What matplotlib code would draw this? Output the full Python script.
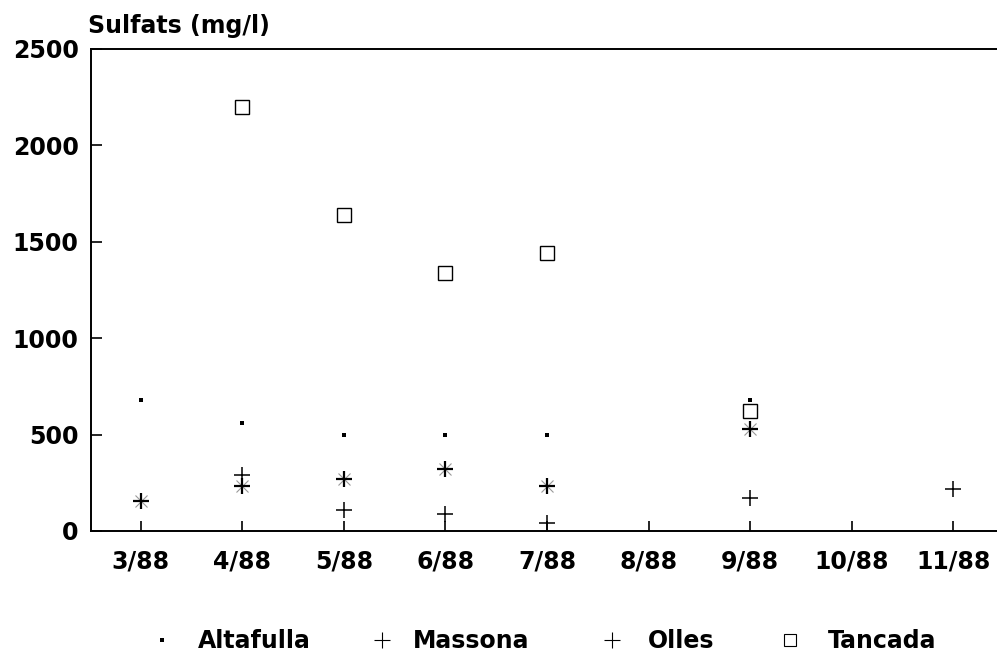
import numpy as np
import matplotlib
matplotlib.use('Agg')
import matplotlib.pyplot as plt
from matplotlib.lines import Line2D

# mesos de mostreig
mesos = ['3/88', '4/88', '5/88', '6/88', '7/88', '8/88', '9/88', '10/88', '11/88']

# sulfats (mg/l), nan = sense dada
altafulla = [680, 560, 500, 500, 500, np.nan, 680, np.nan, np.nan]
massona = [158, 290, 110, 90, 42, np.nan, 172, np.nan, 218]
olles = [158, 233, 270, 322, 233, np.nan, 530, np.nan, np.nan]
tancada = [np.nan, 2200, 1640, 1340, 1442, np.nan, 623, np.nan, np.nan]

plt.rcParams['font.family'] = 'DejaVu Sans'
plt.rcParams['font.weight'] = 'bold'
mida = 17

fig = plt.figure(figsize=(9.97, 6.53), dpi=100)
ax = fig.add_axes([91/997, 1 - 531/653, 1 - 91/997, (531 - 49)/653])

x = np.arange(len(mesos))
ax.plot(x, altafulla, ls='none', marker='s', ms=3.4, color='black', mew=0)
ax.plot(x, massona, ls='none', marker='+', ms=12, mew=1.1, color='black')
ax.plot(x, olles, ls='none', marker='x', ms=8, mew=0.8, color='#999999')
ax.plot(x, olles, ls='none', marker='+', ms=11, mew=1.6, color='black')
ax.plot(x, tancada, ls='none', marker='s', ms=10, mew=1.0, mfc='white', mec='black')

ax.set_xlim(-0.49, 8.43)
ax.set_ylim(0, 2500)
ax.set_xticks(x)
ax.set_xticklabels(mesos)
ax.set_yticks([0, 500, 1000, 1500, 2000, 2500])
ax.tick_params(axis='x', direction='in', length=7, width=1.2, pad=13, labelsize=mida)
ax.tick_params(axis='y', direction='in', length=8, width=1.2, pad=9, labelsize=mida)
ax.spines['right'].set_visible(False)
for s in ['left', 'top', 'bottom']:
    ax.spines[s].set_linewidth(1.4)

fig.text(88/997, 1 - 33/653, 'Sulfats (mg/l)', fontsize=mida, ha='left', va='baseline')

# llegenda a sota
ly = 1 - 640/653
entrades = [
    (162, 198, 'Altafulla', dict(marker='s', ms=3, mew=0, color='black')),
    (382, 413, 'Massona', dict(marker='+', ms=11, mew=0.8, color='black')),
    (612, 648, 'Olles', dict(marker='+', ms=11, mew=0.8, color='black')),
    (790, 828, 'Tancada', dict(marker='s', ms=8, mew=0.8, mfc='white', mec='black')),
]
for mx, tx, nom, estil in entrades:
    fig.add_artist(Line2D([mx/997], [ly], ls='none', transform=fig.transFigure, **estil))
    fig.text(tx/997, 1 - 648/653, nom, fontsize=mida, ha='left', va='baseline')

fig.savefig('out.png', dpi=100)
